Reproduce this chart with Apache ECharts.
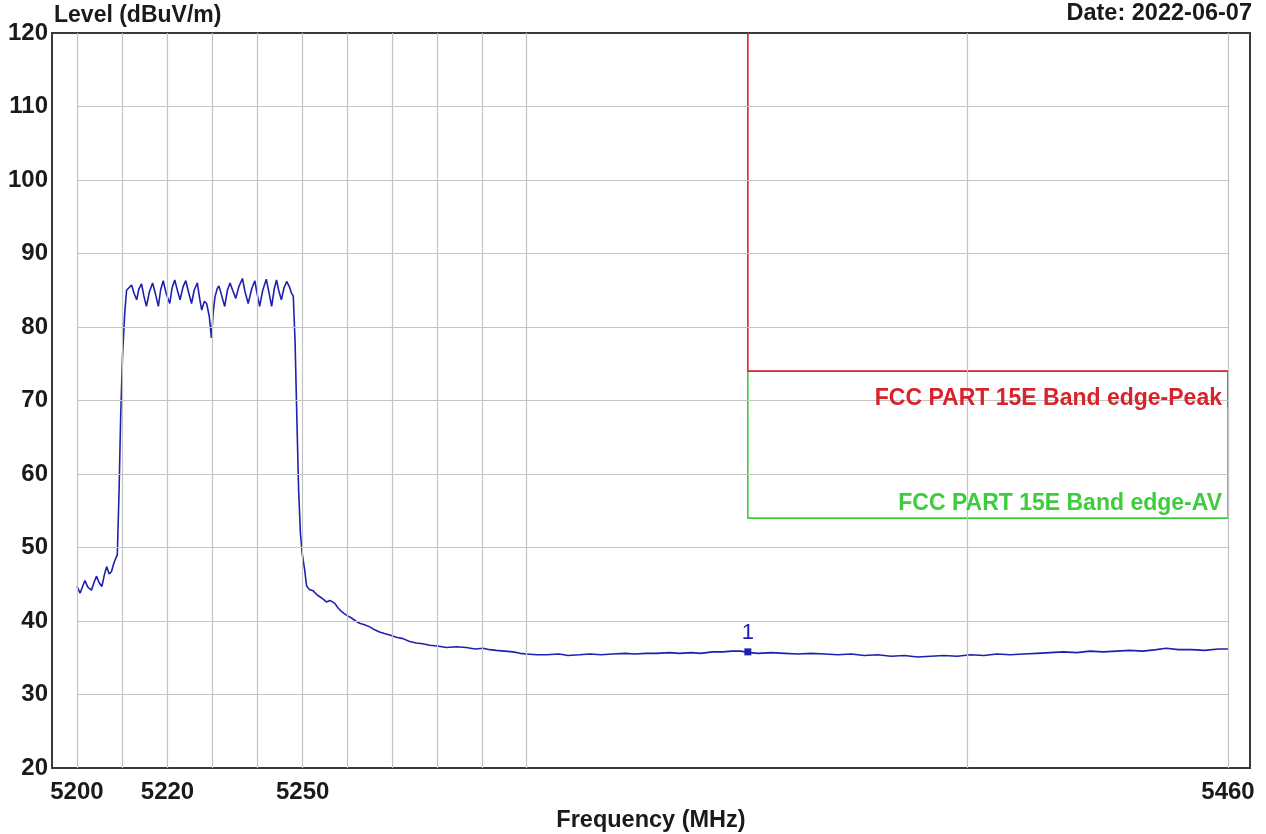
<!DOCTYPE html>
<html>
<head>
<meta charset="utf-8">
<script src="https://cdn.jsdelivr.net/npm/echarts@6/dist/echarts.min.js"></script>
<style>
html,body{margin:0;padding:0;background:#fff;}
#chart{width:1266px;height:834px;}
</style>
</head>
<body>
<div id="chart"></div>
<script>
// ---- Data (frequency axis is logarithmic) ----
const freqs = [
5200,5200.7,5201.3,5201.75,5202.4,5203.2,5203.8,5204.3,5204.9,5205.5,5206.05,5206.55,5207.1,5207.6,5208.1,5208.4,5208.9,5209.3,5209.65,5210.05,5210.55,5210.95,
5211.42,5212.05,5212.6,5213.18,5213.67,5214.26,5214.74,5215.33,5216.0,5216.7,5217.29,5217.97,5218.46,5219.05,5219.73,5220.5,5221.0,5221.6,5222.18,5222.77,5223.45,5224.04,5224.63,5225.32,5225.9,5226.6,5227.08,5227.57,5228.16,5228.65,5229.24,5229.72,5230.12,5230.51,5231.0,5231.39,5231.98,5232.67,5233.26,5233.85,5234.43,5235.13,5235.81,5236.6,5237.18,5237.88,5238.66,5239.35,5239.83,5240.43,5241.11,5241.9,5242.49,5243.09,5243.67,5244.17,5244.65,5245.25,5245.83,5246.43,5247.01,5247.51,5247.9,
5248.3,5248.68,5249.08,5249.48,5249.88,5250.45,5250.85,5251.44,5252.33,5253.11,5253.8,5254.49,5255.28,5256.07,5257.15,5257.84,5258.63,5259.23,5260.01,5260.9,5261.79,5262.68,5263.76,5264.95,5266.03,5267.13,5268.2,5269.4,5270.87,5272.35,5273.84,5275.32,5276.8,5278.29,5280.07,5282.05,5284.33,5286.51,5288.49,5290.28,5291.76,5293.25,5295.13,5297.02,5298.61,5300.0,
5302.39,5304.48,5307.37,5309.36,5311.95,5314.34,5316.83,5319.42,5322.32,5324.31,5327.01,5329.31,5332.3,5334.5,5337.3,5339.31,5342.01,5344.32,5346.32,5348.33,5350.34,5352.35,5355.36,5358.38,5361.39,5364.4,5367.42,5370.45,5373.48,5376.51,5379.53,5382.56,5385.59,5388.61,5391.64,5394.66,5397.69,5400.73,5403.77,5406.82,5409.86,5412.91,5415.95,5419.0,5422.05,5425.1,5428.14,5431.19,5434.24,5437.3,5440.35,5443.41,5445.75,5448.51,5451.58,5454.64,5457.73,5460
];
const levels = [
44.7,43.8,44.8,45.5,44.6,44.2,45.3,46.1,45.2,44.7,46.3,47.4,46.4,46.7,47.8,48.3,49.0,58,68,76,82,85.0,
85.3,85.7,84.6,83.7,85.2,85.85,84.3,82.8,84.8,86.0,84.6,82.8,85.0,86.3,84.5,83.2,85.3,86.4,85.0,83.7,85.5,86.3,84.8,83.2,85.0,86.0,84.0,82.3,83.5,83.2,81.5,78.5,82.0,84.1,85.2,85.6,84.3,82.8,85.0,86.0,85.0,83.9,85.5,86.6,84.8,83.2,85.2,86.3,84.6,82.8,85.0,86.5,84.7,82.8,85.2,86.4,85.0,83.7,85.3,86.2,85.5,84.6,84.2,
78,68,58,52,49.2,46.9,44.8,44.3,44.1,43.6,43.3,43.0,42.6,42.8,42.4,41.8,41.3,41.0,40.7,40.4,40.0,39.7,39.5,39.2,38.8,38.5,38.3,38.1,37.8,37.6,37.2,37.0,36.9,36.7,36.6,36.4,36.5,36.4,36.2,36.3,36.1,36.0,35.9,35.8,35.6,35.5,
35.4,35.4,35.5,35.3,35.4,35.5,35.4,35.5,35.6,35.5,35.6,35.6,35.7,35.6,35.7,35.6,35.8,35.8,35.9,35.9,35.7,35.6,35.7,35.6,35.5,35.6,35.5,35.4,35.5,35.3,35.4,35.2,35.3,35.1,35.2,35.3,35.2,35.4,35.3,35.5,35.4,35.5,35.6,35.7,35.8,35.7,35.9,35.8,35.9,36.0,35.9,36.1,36.3,36.1,36.1,36.0,36.2,36.2
];
// Limit lines (FCC PART 15E band edge)
const peakLimitFreqs = [5350, 5350, 5460, 5460];
const peakLimitLevels = [120, 74, 74, 69];
const avLimitFreqs = [5350, 5350, 5460, 5460];
const avLimitLevels = [74, 54, 54, 69];
// Marker
const markerFreq = 5350;
const markerLevel = 35.8;
const markerName = '1';
// Grid lines / tick labels
const gridFreqs = [5200,5210,5220,5230,5240,5250,5260,5270,5280,5290,5300,5400,5460];
const gridLevels = [30,40,50,60,70,80,90,100,110];
const xTickLabels = [5200,5220,5250,5460];
const peakLabel = 'FCC PART 15E Band edge-Peak';
const avLabel = 'FCC PART 15E Band edge-AV';

const FONT = "'Liberation Sans', Arial, sans-serif";
const traceData = freqs.map((f, i) => [f, levels[i]]);
const peakData = peakLimitFreqs.map((f, i) => [f, peakLimitLevels[i]]);
const avData = avLimitFreqs.map((f, i) => [f, avLimitLevels[i]]);

const gridLineData = [];
gridFreqs.forEach(f => gridLineData.push([{coord:[f,20]},{coord:[f,120]}]));
gridLevels.forEach(l => gridLineData.push([{coord:[5200,l]},{coord:[5460,l]}]));

const chart = echarts.init(document.getElementById('chart'));
chart.setOption({
  animation: false,
  backgroundColor: '#ffffff',
  grid: { left: 52, right: 16, top: 33, bottom: 66, outerBoundsMode: 'none', containLabel: false,
    show: true, borderColor: '#3a3a3a', borderWidth: 2, backgroundColor: 'transparent' },
  graphic: [
    { type: 'text', left: 54, top: 4, style: { text: 'Level (dBuV/m)', font: 'bold 23px ' + FONT, fill: '#1a1a1a' } },
    { type: 'text', right: 14, top: 2, style: { text: 'Date: 2022-06-07', font: 'bold 23.5px ' + FONT, fill: '#1a1a1a' } }
  ],
  xAxis: {
    type: 'log', logBase: 10, min: 5194.5, max: 5465.1,
    axisLine: { show: false }, axisTick: { show: false }, splitLine: { show: false }, minorSplitLine: { show: false },
    axisLabel: { customValues: xTickLabels, formatter: v => String(Math.round(v)),
      color: '#1a1a1a', fontWeight: 'bold', fontSize: 24, fontFamily: FONT, margin: 12 },
    name: 'Frequency (MHz)', nameLocation: 'middle', nameGap: 38,
    nameTextStyle: { color: '#1a1a1a', fontWeight: 'bold', fontSize: 23.5, fontFamily: FONT }
  },
  yAxis: {
    type: 'value', min: 20, max: 120, interval: 10,
    axisLine: { show: false }, axisTick: { show: false }, splitLine: { show: false },
    axisLabel: { color: '#1a1a1a', fontWeight: 'bold', fontSize: 24, fontFamily: FONT, margin: 4 }
  },
  series: [
    {
      type: 'line', data: [], silent: true,
      markLine: { silent: true, symbol: ['none','none'], label: { show: false },
        lineStyle: { color: '#c4c4c4', width: 1.2, type: 'solid' }, data: gridLineData }
    },
    {
      type: 'line', data: avData, showSymbol: false, silent: true,
      lineStyle: { color: '#3ccc3c', width: 1.6 },
      markPoint: { symbol: 'circle', symbolSize: 0, silent: true,
        data: [{ coord: [5460, 56.0], label: { show: true, position: 'left', distance: 6, formatter: avLabel,
          color: '#3ccc3c', fontWeight: 'bold', fontSize: 23, fontFamily: FONT } }] }
    },
    {
      type: 'line', data: peakData, showSymbol: false, silent: true,
      lineStyle: { color: '#d8232a', width: 1.6 },
      markPoint: { symbol: 'circle', symbolSize: 0, silent: true,
        data: [{ coord: [5460, 70.3], label: { show: true, position: 'left', distance: 6, formatter: peakLabel,
          color: '#d8232a', fontWeight: 'bold', fontSize: 23, fontFamily: FONT } }] }
    },
    {
      type: 'line', data: traceData, showSymbol: false, silent: true,
      lineStyle: { color: '#1f1fb0', width: 1.6 },
      markPoint: { symbol: 'rect', symbolSize: 7, silent: true, itemStyle: { color: '#1f1fb0' },
        data: [{ coord: [markerFreq, markerLevel], label: { show: true, position: 'top', distance: 4, formatter: markerName,
          color: '#1f1fb0', fontSize: 22, fontFamily: FONT } }] }
    }
  ]
});
</script>
</body>
</html>
